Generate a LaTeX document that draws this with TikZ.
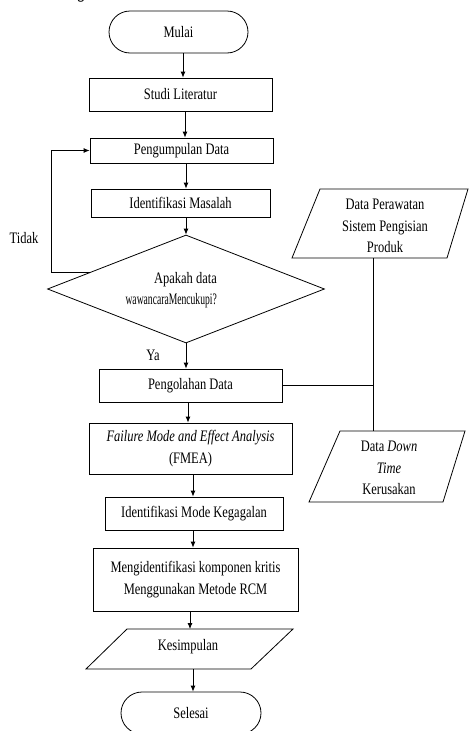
\documentclass[tikz,border=0pt]{standalone}
\usepackage{fontspec}
\setmainfont{Liberation Serif}[FakeStretch=0.78]
\usepackage{graphicx}
\usetikzlibrary{shapes.geometric,arrows.meta,calc}
\begin{document}
\begin{tikzpicture}[x=1pt,y=-1pt,
  every node/.style={font=\fontsize{16}{21.5}\selectfont, inner sep=0pt},
  ln/.style={line width=0.8pt},
  arr/.style={ln,-{Latex[length=6pt,width=5pt]}},
  procbox/.style={draw,ln,rectangle,align=center},
  term/.style={draw,ln,rectangle,rounded corners=21pt,minimum height=42pt},
  decis/.style={draw,ln,diamond,minimum width=277pt,minimum height=108pt}]
\useasboundingbox (0,0) rectangle (469,731);

\node[anchor=base,font=\fontsize{17}{20}\selectfont\bfseries] (hg) at (81,-1.5) {g};

\node[term,minimum width=139pt] (mulai) at (178.5,32) {Mulai};
\node[procbox,minimum width=183pt,minimum height=33pt] (studi) at (180.5,94.5) {Studi Literatur};
\node[procbox,minimum width=183pt,minimum height=25pt] (peng) at (181.5,150.5) {Pengumpulan Data};
\node[procbox,minimum width=179pt,minimum height=28pt] (ident) at (180.5,203) {Identifikasi Masalah};
\node[decis] (dia) at (186,289) {};
\node[align=right,anchor=east] (diatxt) at (217,290) {Apakah data\\\scalebox{0.77}[1]{wawancaraMencukupi?}};
\node (tidak) at (24,238) {Tidak};
\node (ya) at (153,355) {Ya};
\node[procbox,minimum width=183pt,minimum height=33pt] (olah) at (190.5,385.5) {Pengolahan Data};
\node[procbox,minimum width=203pt,minimum height=51pt] (fmea) at (190.5,448.5) {\textit{Failure Mode and Effect Analysis}\\(FMEA)};
\node[procbox,minimum width=178pt,minimum height=33pt] (imk) at (194,513.5) {Identifikasi Mode Kegagalan};
\node[procbox,minimum width=205pt,minimum height=63pt] (meng) at (195.5,579.5) {Mengidentifikasi komponen kritis\\Menggunakan Metode RCM};
\node (kes) at (188,647) {Kesimpulan};
\node[term,minimum width=140pt] (sel) at (191,713) {Selesai};
\node[align=center] (dp) at (385,226) {Data Perawatan\\Sistem Pengisian\\Produk};
\node[align=center] (ddt) at (389,468) {Data \textit{Down}\\\textit{Time}\\Kerusakan};

% parallelograms
\draw[ln] ($(dp)+(-65,-37)$) -- ($(dp)+(83,-37)$) -- ($(dp)+(62,32)$) -- ($(dp)+(-93,32)$) -- cycle;
\draw[ln] ($(ddt)+(-49,-37)$) -- ($(ddt)+(76,-37)$) -- ($(ddt)+(54,34)$) -- ($(ddt)+(-80,34)$) -- cycle;
\draw[ln] ($(kes)+(-61,-18)$) -- ($(kes)+(105,-18)$) -- ($(kes)+(63,22)$) -- ($(kes)+(-102,22)$) -- cycle;

% data links
\coordinate (dpb) at ($(dp)+(-12,32)$);
\coordinate (ddtt) at ($(ddt)+(-16,-37)$);
\draw[ln] (dpb) -- (ddtt);
\draw[ln] (olah.east) -- (olah.east -| dpb);

% feedback
\coordinate (fb) at ($(dia.west)!0.31!(dia.north)$);
\coordinate (fbx) at (51,0);
\draw[arr] (fb) -- (fb -| fbx) -- (fbx |- peng.west) -- (peng.west);

% main flow
\draw[arr] ([xshift=4.5pt]mulai.south) -- ([xshift=2.5pt]studi.north);
\draw[arr] ([xshift=4.5pt]studi.south) -- ([xshift=3.5pt]peng.north);
\draw[arr] ([xshift=4.5pt]peng.south) -- ([xshift=5.5pt]ident.north);
\draw[arr] ([xshift=5.5pt]ident.south) -- (dia.north);
\draw[arr] (dia.south) -- ([xshift=-4.5pt]olah.north);
\draw[arr] ([xshift=-2.5pt]olah.south) -- ([xshift=-2.5pt]fmea.north);
\draw[arr] ([xshift=2.5pt]fmea.south) -- ([xshift=-1pt]imk.north);
\draw[arr] ([xshift=-1pt]imk.south) -- ([xshift=-2.5pt]meng.north);
\draw[arr] ([xshift=-5.5pt]meng.south) -- ($(kes)+(2,-18)$);
\draw[arr] ($(kes)+(5,22)$) -- ([xshift=2pt]sel.north);
\end{tikzpicture}
\end{document}
